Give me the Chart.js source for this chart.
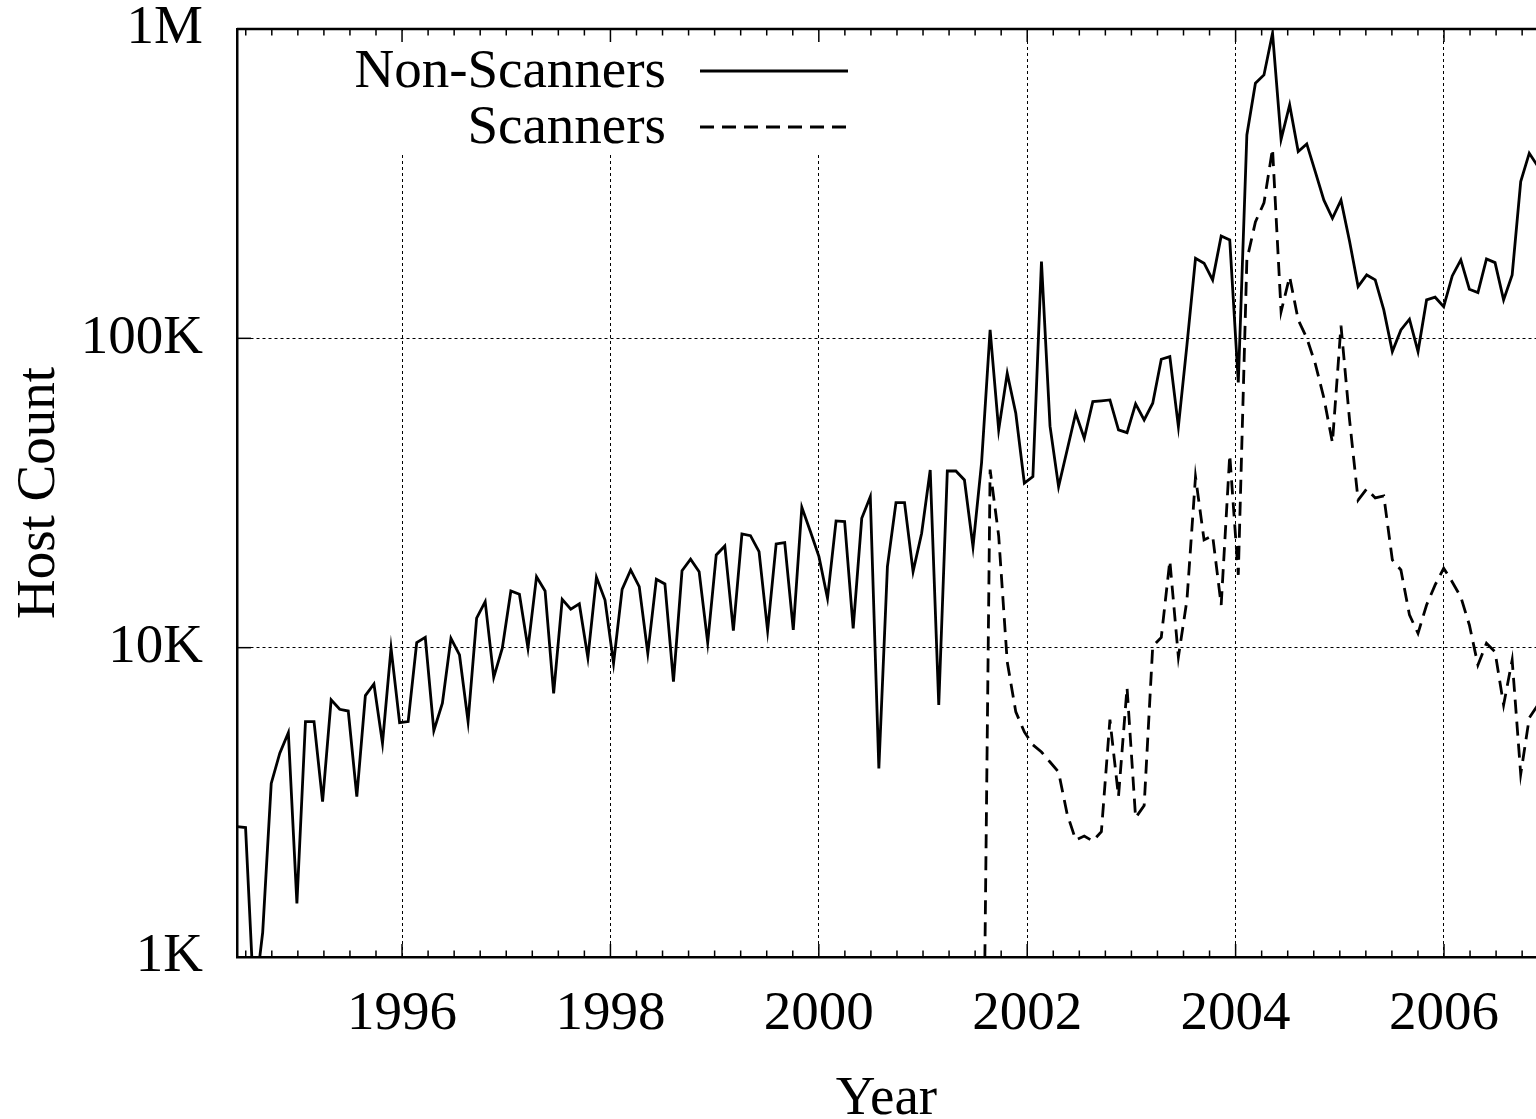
<!DOCTYPE html>
<html>
<head>
<meta charset="utf-8">
<title>Host Count by Year</title>
<script src="https://cdn.jsdelivr.net/npm/chart.js@4.4.1/dist/chart.umd.min.js"></script>
<style>
  body { margin: 0; background: #fff; }
  canvas { display: block; }
</style>
</head>
<body>
<canvas id="hosts" width="1536" height="1119"></canvas>
<script>
// Samples are taken every 30 days, starting mid 1994
const sampleStart = 1994.416;
const sampleStepDays = 30;

// Non-scanner host counts, one per sample
const nonScanners = [
  2640, 2620, 700, 1200, 3640, 4560, 5310, 1490, 5770, 5770,
  3180, 6780, 6320, 6240, 3300, 7000, 7630, 4910, 9960, 5720,
  5770, 10380, 10800, 5390, 6610, 10720, 9470, 5770, 12450, 14080,
  8020, 9960, 15250, 14880, 9960, 16960, 15250, 7120, 14330, 13310,
  13850, 9280, 16890, 14260, 8900, 15440, 17830, 15750, 9590, 16640,
  16070, 7770, 17740, 19310, 17610, 10380, 19940, 21320, 11350, 23320,
  23020, 20430, 11350, 21640, 21860, 11410, 28440, 23730, 19690, 14440,
  25680, 25580, 11550, 26200, 30770, 4070, 18280, 29430, 29430, 17610,
  23440, 37530, 6530, 37250, 37250, 34840, 21210, 39600, 106500, 50570,
  77140, 57270, 34010, 35720, 177000, 52000, 33150, 43560, 57270, 47530,
  62430, 62800, 63230, 50570, 49550, 61370, 54480, 61690, 85590, 87270,
  51820, 95200, 181500, 174900, 154500, 214300, 208100, 72000, 454600, 667900,
  710500, 969000, 440100, 568300, 401500, 425000, 345100, 279700, 244500, 279700,
  205900, 147000, 160300, 154500, 123600, 90600, 106500, 115300, 90600, 133100,
  135800, 126600, 159100, 179300, 144100, 140500, 180600, 175700, 133100, 160300,
  321100, 396800, 360000
];

// Scanner host counts, first sample is number 87
const scannerFirst = 87;
const scanners = [
  100, 37640, 23000, 9000, 6200, 5340, 4850, 4600, 4270, 3960,
  2900, 2390, 2460, 2370, 2540, 5850, 3300, 7430, 2820, 3090,
  10100, 10790, 19110, 9330, 14260, 35690, 22300, 23020, 13740, 42000,
  17180, 179300, 237800, 274100, 410000, 122000, 158300, 114700, 100300, 82650,
  64170, 46000, 110000, 54480, 30000, 32600, 30480, 30940, 19210, 17830,
  12760, 11130, 13740, 15950, 18060, 16310, 14580, 11840, 8790, 10330,
  9690, 6530, 9120, 3900, 5930, 6530
];

// Axis ticks
const yearTicks = [1996, 1998, 2000, 2002, 2004, 2006];
const hostTicks = [1000, 10000, 100000, 1000000];
const hostTickLabels = ["1K", "10K", "100K", "1M"];
const xMin = 1994.416, xMax = 2006.883;

const serif = "'Liberation Serif', 'Times New Roman', Times, serif";
const sampleYear = i => sampleStart + i * sampleStepDays / 365.25;

const nonScannerPoints = nonScanners.map((v, i) => ({ x: sampleYear(i), y: v }));
const scannerPoints = scanners.map((v, i) => ({ x: sampleYear(scannerFirst + i), y: v }));

// Legend (gnuplot style: text right aligned, sample to the right)
const legendItems = [
  { text: "Non-Scanners", dash: [], y: 71 },
  { text: "Scanners", dash: [14, 8], y: 127 }
];

const framePlugin = {
  id: "frame",
  beforeDatasetsDraw(chart) {
    // white box behind the legend hides the grid
    const ctx = chart.ctx;
    ctx.save();
    ctx.fillStyle = "#fff";
    ctx.fillRect(340, chart.chartArea.top + 2, 520, 121);
    ctx.restore();
  },
  afterDraw(chart) {
    const ctx = chart.ctx;
    const { top, bottom, left, right } = chart.chartArea;
    const x = chart.scales.x, y = chart.scales.y;
    ctx.save();
    ctx.strokeStyle = "#000";

    // top border
    ctx.lineWidth = 2.5;
    ctx.beginPath();
    ctx.moveTo(left, top);
    ctx.lineTo(right, top);
    ctx.stroke();

    // inward ticks on bottom and top, quarter years
    ctx.lineWidth = 1.5;
    for (let q = Math.ceil(xMin * 4); q <= Math.floor(xMax * 4); q++) {
      const yr = q / 4;
      const px = x.getPixelForValue(yr);
      const len = (yr % 2 === 0) ? 13 : 6.5;
      ctx.beginPath();
      ctx.moveTo(px, bottom);
      ctx.lineTo(px, bottom - len);
      ctx.moveTo(px, top);
      ctx.lineTo(px, top + len);
      ctx.stroke();
    }
    // inward ticks on the left axis
    hostTicks.forEach(v => {
      const py = y.getPixelForValue(v);
      ctx.beginPath();
      ctx.moveTo(left, py);
      ctx.lineTo(left + 14, py);
      ctx.stroke();
    });

    // legend
    ctx.font = "55px " + serif;
    ctx.fillStyle = "#000";
    ctx.textAlign = "right";
    ctx.textBaseline = "middle";
    legendItems.forEach(item => {
      ctx.fillText(item.text, 666, item.y + 2);
      ctx.lineWidth = 2.8;
      ctx.setLineDash(item.dash);
      ctx.beginPath();
      ctx.moveTo(700, item.y);
      ctx.lineTo(848, item.y);
      ctx.stroke();
      ctx.setLineDash([]);
    });
    ctx.restore();
  }
};

const tickFont = { family: serif, size: 55, lineHeight: 1.0 };
const xTitleFont = { family: serif, size: 55, lineHeight: 0.7 };
const yTitleFont = { family: serif, size: 55, lineHeight: 0.9 };
const hideEdges = c => (c.tick && (c.tick.value === 1000 || c.tick.value === 1000000)) ? "rgba(0,0,0,0)" : "#000";

new Chart(document.getElementById("hosts"), {
  type: "line",
  data: {
    datasets: [
      {
        label: "Non-Scanners",
        data: nonScannerPoints,
        borderColor: "#000",
        borderWidth: 2.8,
        pointRadius: 0,
        tension: 0
      },
      {
        label: "Scanners",
        data: scannerPoints,
        borderColor: "#000",
        borderWidth: 2.8,
        borderDash: [14, 8],
        pointRadius: 0,
        tension: 0
      }
    ]
  },
  options: {
    responsive: false,
    animation: false,
    events: [],
    layout: { padding: { top: 29, left: 0, right: 0, bottom: 0 } },
    plugins: {
      legend: { display: false },
      tooltip: { enabled: false }
    },
    scales: {
      x: {
        type: "linear",
        min: xMin,
        max: xMax,
        afterBuildTicks: s => { s.ticks = yearTicks.map(v => ({ value: v })); },
        afterFit: s => { s.height = 162; s.paddingLeft = 0; s.paddingRight = 0; },
        grid: { color: "#000", lineWidth: 1, drawTicks: false },
        border: { color: "#000", width: 2.5, dash: [3, 3] },
        ticks: {
          font: tickFont,
          color: "#000",
          padding: 30,
          maxRotation: 0,
          autoSkip: false,
          callback: v => String(v)
        },
        title: { display: true, text: "Year", font: xTitleFont, color: "#000", padding: { top: 0, bottom: 0 } }
      },
      y: {
        type: "logarithmic",
        min: 1000,
        max: 1000000,
        afterBuildTicks: s => { s.ticks = hostTicks.map(v => ({ value: v })); },
        afterFit: s => { s.width = 237; s.paddingTop = 0; s.paddingBottom = 0; },
        grid: { color: hideEdges, lineWidth: 1, drawTicks: false },
        border: { color: "#000", width: 2.5, dash: [3, 3] },
        ticks: {
          font: tickFont,
          color: "#000",
          padding: 34,
          autoSkip: false,
          callback: v => hostTickLabels[hostTicks.indexOf(v)] || ""
        },
        title: { display: true, text: "Host Count", font: yTitleFont, color: "#000", padding: { top: 15, bottom: 0 } }
      }
    }
  },
  plugins: [framePlugin]
});
</script>
</body>
</html>
